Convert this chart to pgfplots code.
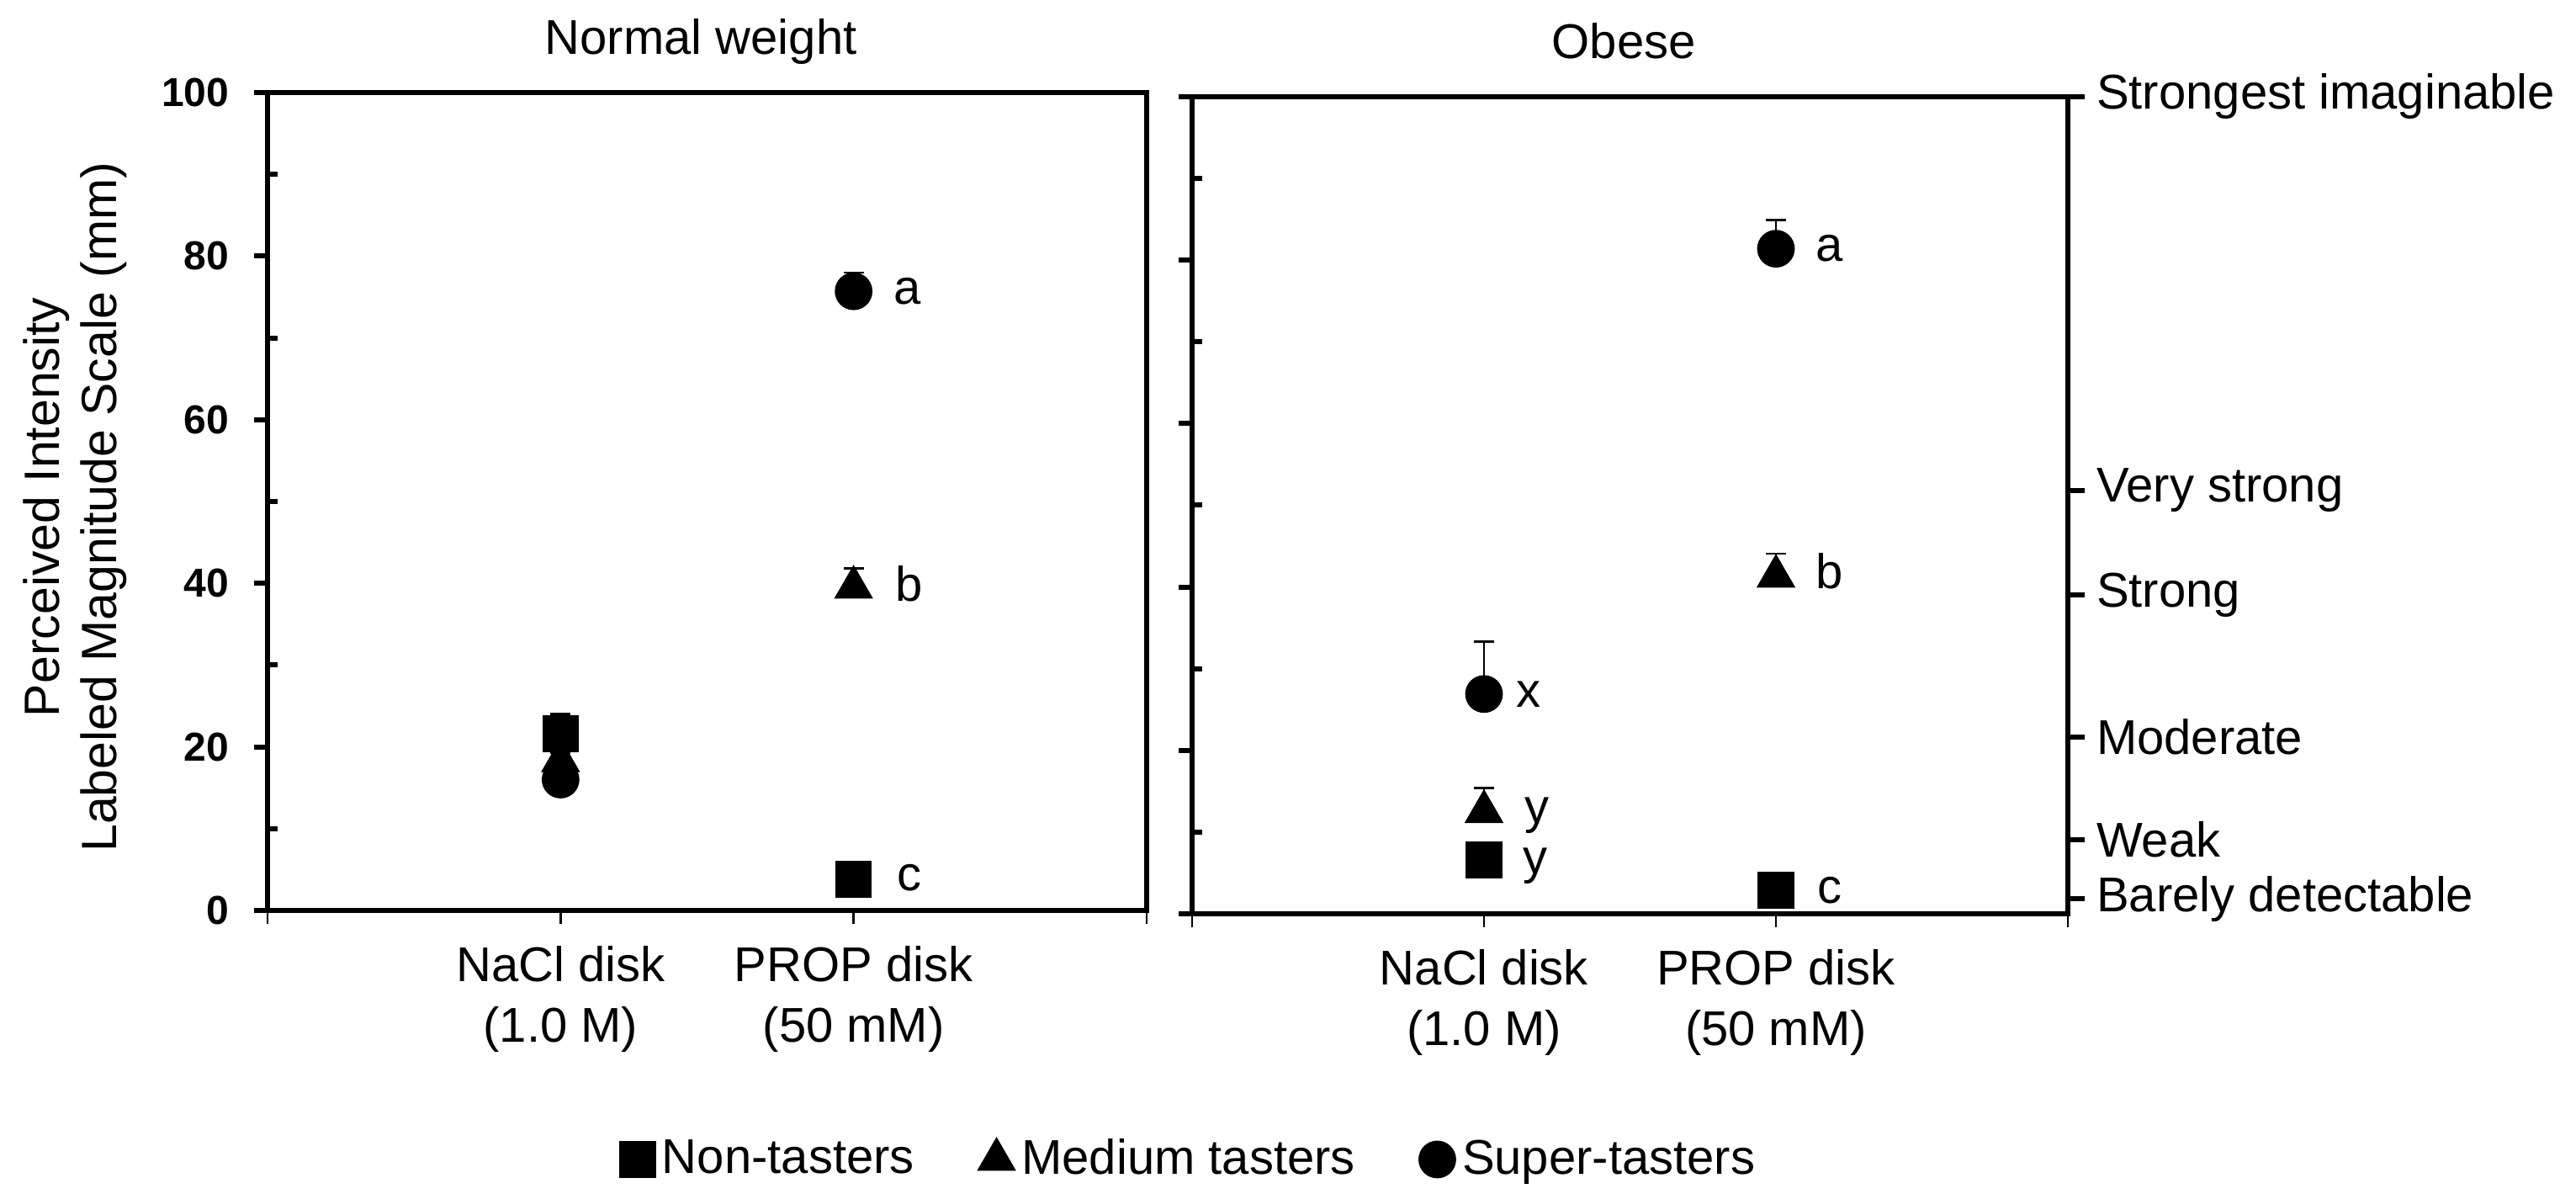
\documentclass[border=0pt]{standalone}
\usepackage{fontspec}
\setmainfont{Liberation Sans}
\usepackage{pgfplots}
\pgfplotsset{compat=1.18}
\usepackage{pgfplotstable}

% Normal weight
\pgfplotstableread{
x y e
1 21.6 2.4
2 3.8 0.5
}\nwNon
\pgfplotstableread{
x y e
1 18.3 1.0
2 39.5 2.3
}\nwMed
\pgfplotstableread{
x y e
1 16.0 1.0
2 75.7 2.3
}\nwSup
% Obese
\pgfplotstableread{
x y e
1 6.6 2.0
2 2.9 0.5
}\obNon
\pgfplotstableread{
x y e
1 12.5 2.9
2 41.3 2.8
}\obMed
\pgfplotstableread{
x y e
1 26.9 6.4
2 81.4 3.5
}\obSup

\pgfplotsset{
  panel/.style={
    scale only axis, anchor=south west,
    xmin=0, xmax=3, ymin=0, ymax=100,
    xtick={0,1,2,3},
    xticklabels={,{NaCl disk\\(1.0 M)},{PROP disk\\(50 mM)},},
    xticklabel style={align=center, font=\fontsize{14.5}{18}\selectfont, yshift=-3.3pt},
    xtick pos=left, ytick pos=left,
    ytick={0,20,40,60,80,100},
    extra y ticks={10,30,50,70,90},
    extra y tick labels={},
    extra y tick style={tick align=inside, major tick length=3pt},
    tick align=outside,
    major tick length=3.9pt,
    xtick style={line width=0.6pt, black},
    ytick style={line width=1.5pt, black},
    axis line style={line width=1.5pt, black},
    /pgf/number format/assume math mode=true,
    title style={anchor=base, at={(axis description cs:0.493,1)}, yshift=5.3pt, font=\fontsize{14.5}{17}\selectfont},
    clip=false,
  },
  eb/.style={black, only marks,
      error bars/.cd, y dir=plus, y explicit,
      error bar style={line width=0.6pt, black},
      error mark options={rotate=90, line width=0.6pt, mark size=3pt, black}},
  sq/.style={mark=square*, mark size=5.25pt, mark options={fill=black, draw=black}},
  tri/.style={mark=triangle*, mark size=6.3pt, mark options={fill=black, draw=black}},
  cir/.style={mark=*, mark size=5.4pt, mark options={fill=black, draw=black}},
}

\begin{document}
\begin{tikzpicture}
\path[use as bounding box] (0,0) rectangle (765.5pt,354.75pt);

% ---------- Normal weight ----------
\begin{axis}[panel,
  at={(79.5pt,84.25pt)}, width=261.25pt, height=243pt,
  title={Normal weight},
  yticklabel style={font=\bfseries\fontsize{12}{14}\selectfont, xshift=-4pt},
  ylabel={Perceived Intensity\\Labeled Magnitude Scale (mm)},
  ylabel style={align=center, font=\fontsize{14.75}{17}\selectfont,
    at={(axis description cs:-0.147,0.493)}, anchor=south},
]
\addplot[cir, eb] table[x=x, y=y, y error=e]{\nwSup};
\addplot[tri, eb] table[x=x, y=y, y error=e]{\nwMed};
\addplot[sq, eb]  table[x=x, y=y, y error=e]{\nwNon};
\node[font=\fontsize{14.5}{17}\selectfont] at (axis cs:2,75.7) [xshift=16pt] {a};
\node[font=\fontsize{14.5}{17}\selectfont] at (axis cs:2,39.9) [xshift=16.5pt] {b};
\node[font=\fontsize{14.5}{17}\selectfont] at (axis cs:2,4.0) [xshift=16.5pt] {c};
\end{axis}

% ---------- Obese ----------
\begin{axis}[panel,
  at={(354.25pt,83.25pt)}, width=260.25pt, height=242.75pt,
  title={Obese},
  yticklabels={},
  legend style={at={(axis description cs:-0.654,-0.3007)}, anchor=west,
    draw=none, fill=none, inner sep=0pt,
    font=\fontsize{14.5}{17}\selectfont,
    legend columns=3,
    /tikz/every even column/.append style={column sep=17pt}},
  legend image code/.code={\draw[#1] plot coordinates {(0pt,0pt)};},
]
\addplot[sq, eb]  table[x=x, y=y, y error=e]{\obNon};
\addplot[tri, eb] table[x=x, y=y, y error=e]{\obMed};
\addplot[cir, eb] table[x=x, y=y, y error=e]{\obSup};
\legend{Non-tasters, Medium tasters, Super-tasters}
\node[font=\fontsize{14.5}{17}\selectfont] at (axis cs:2,81.4) [xshift=16pt] {a};
\node[font=\fontsize{14.5}{17}\selectfont] at (axis cs:2,41.9) [xshift=16pt] {b};
\node[font=\fontsize{14.5}{17}\selectfont] at (axis cs:2,2.9) [xshift=16pt] {c};
\node[font=\fontsize{14.5}{17}\selectfont] at (axis cs:1,26.9) [xshift=13.2pt] {x};
\node[font=\fontsize{14.5}{17}\selectfont] at (axis cs:1,12.0) [xshift=15.8pt] {y};
\node[font=\fontsize{14.5}{17}\selectfont] at (axis cs:1,5.8) [xshift=15.2pt] {y};
\end{axis}

% ---------- right LMS scale ----------
\begin{axis}[
  scale only axis, anchor=south west,
  at={(354.25pt,83.25pt)}, width=260.25pt, height=242.75pt,
  xmin=0, xmax=3, ymin=0, ymax=100,
  axis x line=none, axis y line*=right,
  y axis line style={-, line width=1.5pt, black},
  ytick={1.85,9.1,21.6,39,51.8,100},
  yticklabels={Barely detectable, Weak, Moderate, Strong, Very strong, Strongest imaginable},
  yticklabel style={font=\fontsize{14.5}{17}\selectfont, anchor=west},
  tick align=outside, major tick length=5pt,
  ytick style={line width=1.5pt, black},
  minor tick num=0,
]
\end{axis}
\end{tikzpicture}
\end{document}
